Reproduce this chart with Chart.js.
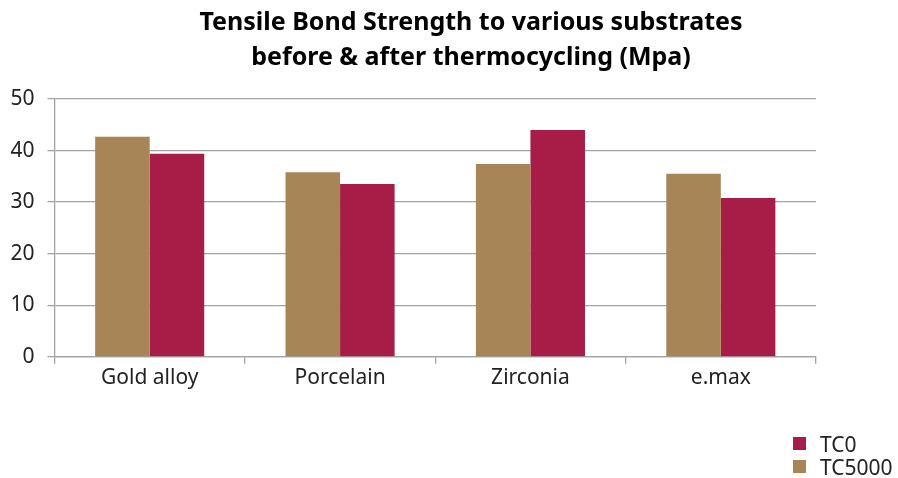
<!DOCTYPE html>
<html>
<head>
<meta charset="utf-8">
<script src="https://cdn.jsdelivr.net/npm/chart.js@4/dist/chart.umd.min.js"></script>
<style>
  html, body { margin: 0; padding: 0; background: #fff; }
  #wrap { position: relative; width: 898px; height: 478px; font-family: "Noto Sans", sans-serif; }
  #title {
    position: absolute; left: 44px; right: 0; top: 3px;
    text-align: center; font-weight: bold; font-size: 25px; line-height: 35px; color: #000;
  }
  #legend { position: absolute; left: 793px; top: 432px; font-size: 21px; color: #222; }
  #legend .item { display: flex; align-items: center; height: 23px; }
  #legend .box { width: 13px; height: 13px; margin-right: 14px; }
</style>
</head>
<body>
<div id="wrap">
  <canvas id="chart" width="898" height="478"></canvas>
  <div id="title">Tensile Bond Strength to various substrates<br>before &amp; after thermocycling (Mpa)</div>
  <div id="legend"></div>
</div>
<script>
// data
const substrates = ['Gold alloy', 'Porcelain', 'Zirconia', 'e.max'];
const tc5000 = [42.7, 35.8, 37.4, 35.5];
const tc0 = [39.4, 33.5, 44.0, 30.8];
const yTicks = [0, 10, 20, 30, 40, 50];

const brown = '#A88556';
const crimson = '#A81C48';
const gridGray = '#a3a3a3';
const tickFont = { family: 'Noto Sans', size: 21 };

const ctx = document.getElementById('chart').getContext('2d');
const chart = new Chart(ctx, {
  type: 'bar',
  data: {
    labels: substrates,
    datasets: [
      { label: 'TC5000', data: tc5000, backgroundColor: brown },
      { label: 'TC0', data: tc0, backgroundColor: crimson }
    ]
  },
  options: {
    responsive: false,
    animation: false,
    layout: { padding: { left: 4.5, right: 82, top: 99, bottom: 85 } },
    datasets: { bar: { barPercentage: 1, categoryPercentage: 0.573 } },
    plugins: {
      legend: { display: false },
      title: { display: false },
      tooltip: { enabled: false }
    },
    scales: {
      x: {
        grid: { drawOnChartArea: false, drawTicks: true, tickLength: 7, offset: true, color: gridGray, lineWidth: 1.3 },
        border: { color: gridGray, width: 1.3 },
        ticks: { color: '#222', font: tickFont, padding: 2 }
      },
      y: {
        min: 0, max: 50,
        afterBuildTicks: (scale) => { scale.ticks = yTicks.map(v => ({ value: v })); },
        afterFit: (scale) => { scale.width = 50; },
        grid: { color: gridGray, lineWidth: 1.3, tickLength: 7 },
        border: { color: gridGray, width: 1.3 },
        ticks: { color: '#222', font: tickFont, padding: 13 }
      }
    }
  }
});

// legend: TC0 first, then TC5000
const legend = document.getElementById('legend');
chart.data.datasets.slice().reverse().forEach(ds => {
  const item = document.createElement('div');
  item.className = 'item';
  item.innerHTML = '<span class="box" style="background:' + ds.backgroundColor + '"></span>' + ds.label;
  legend.appendChild(item);
});
</script>
</body>
</html>
